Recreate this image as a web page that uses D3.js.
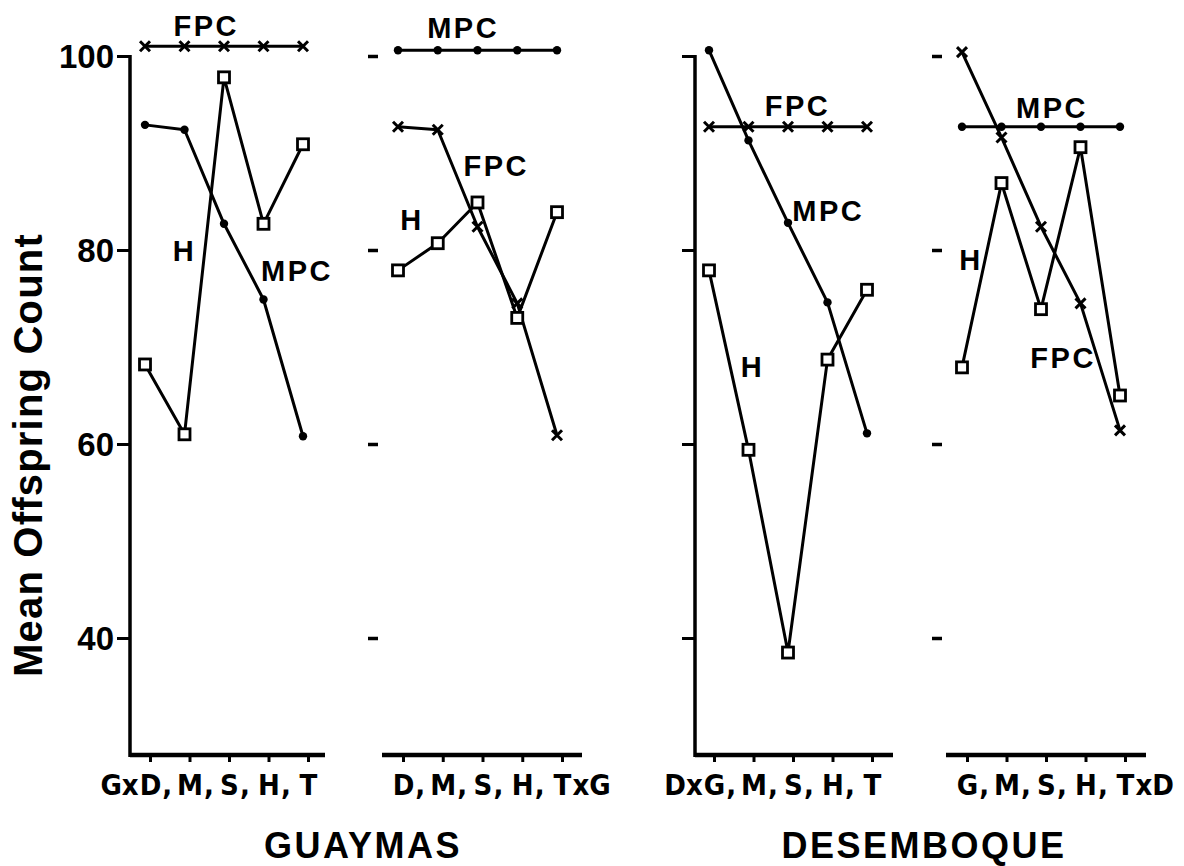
<!DOCTYPE html>
<html>
<head>
<meta charset="utf-8">
<script src="https://cdn.jsdelivr.net/npm/d3@7"></script>
<style>
  body { margin: 0; background: #fff; }
  svg { display: block; }
  text { fill: #000; }
  .bold { font-family: "Liberation Sans", Arial, sans-serif; font-weight: bold; }
  .narrow { font-family: "Liberation Sans Narrow", "DejaVu Sans Condensed", "Liberation Sans", sans-serif; font-weight: bold; }
</style>
</head>
<body>
<div id="chart"></div>
<script>
// valori (Mean Offspring Count)
const yTicks = [40, 60, 80, 100];

// Guaymas, femmina G x maschi D, M, S, H, T
const gaTicks = ["GxD", "M", "S", "H", "T"];
const gaFPC = [101, 101, 101, 101, 101];
const gaMPC = [92.9, 92.4, 82.7, 74.9, 60.8];
const gaH = [68.2, 61.0, 97.8, 82.7, 90.9];

// Guaymas, femmine D, M, S, H, T x maschio G
const gbTicks = ["D", "M", "S", "H", "TxG"];
const gbMPC = [100.6, 100.6, 100.6, 100.6, 100.6];
const gbFPC = [92.7, 92.4, 82.4, 74.5, 60.9];
const gbH = [77.9, 80.7, 84.9, 73.0, 83.9];

// Desemboque, femmina D x maschi G, M, S, H, T
const daTicks = ["DxG", "M", "S", "H", "T"];
const daMPC = [100.6, 91.3, 82.8, 74.6, 61.1];
const daFPC = [92.7, 92.7, 92.7, 92.7, 92.7];
const daH = [77.9, 59.4, 38.5, 68.7, 75.9];

// Desemboque, femmine G, M, S, H, T x maschio D
const dbTicks = ["G", "M", "S", "H", "TxD"];
const dbFPC = [100.4, 91.6, 82.4, 74.5, 61.4];
const dbMPC = [92.7, 92.7, 92.7, 92.7, 92.7];
const dbH = [67.9, 86.9, 73.9, 90.6, 65.0];

const groups = ["GUAYMAS", "DESEMBOQUE"];

// layout dei quattro pannelli (label posizionate in coordinate dati: indice, valore)
const panels = [
  { ticks: gaTicks, series: [["FPC", gaFPC], ["MPC", gaMPC], ["H", gaH]],
    x0: 130, x1: 325, p0: 145, p4: 303, axis: true, yLabels: true,
    labels: [["FPC", 1.55, 103.1], ["H", 1.0, 79.9], ["MPC", 3.85, 77.9]] },
  { ticks: gbTicks, series: [["MPC", gbMPC], ["FPC", gbFPC], ["H", gbH]],
    x0: 382, x1: 582, p0: 398, p4: 557, axis: false,
    labels: [["MPC", 1.64, 102.9], ["FPC", 2.47, 88.7], ["H", 0.35, 83.1]] },
  { ticks: daTicks, series: [["MPC", daMPC], ["FPC", daFPC], ["H", daH]],
    x0: 695, x1: 893, p0: 709, p4: 867, axis: true, yLabels: false,
    labels: [["FPC", 2.24, 94.9], ["MPC", 3.02, 84.1], ["H", 1.1, 68.0]] },
  { ticks: dbTicks, series: [["MPC", dbMPC], ["FPC", dbFPC], ["H", dbH]],
    x0: 946, x1: 1146, p0: 962, p4: 1120, axis: false,
    labels: [["MPC", 2.28, 94.7], ["H", 0.23, 79.0], ["FPC", 2.56, 68.9]] }
];

const W = 1184, H = 866;
const yBottom = 755;
const tickShift = 5;

const svg = d3.select("#chart").append("svg")
  .attr("width", W)
  .attr("height", H);

const y = d3.scaleLinear().domain([40, 100]).range([638, 56]);

panels.forEach(p => {
  const g = svg.append("g");
  const x = d3.scaleLinear().domain([0, 4]).range([p.p0, p.p4]);
  const xt = d3.scalePoint().domain(d3.range(5)).range([p.p0 + tickShift, p.p4 + tickShift]);

  // asse x
  g.append("line")
    .attr("x1", p.x0).attr("x2", p.x1)
    .attr("y1", yBottom).attr("y2", yBottom)
    .attr("stroke", "#000").attr("stroke-width", 4.5);

  const xAxis = g.append("g")
    .attr("transform", `translate(0,${yBottom})`)
    .call(d3.axisBottom(xt).tickSize(7).tickSizeOuter(0).tickFormat(""));
  xAxis.select(".domain").remove();
  xAxis.selectAll(".tick line").attr("stroke", "#000").attr("stroke-width", 3);

  // etichette: lettera centrata sul tick, prefisso/suffisso "x", virgola
  xAxis.selectAll(".tick").each(function(d) {
    const t = d3.select(this);
    const raw = p.ticks[d];
    let main = raw, pre = "", post = "";
    if (raw.includes("x")) {
      if (d === 0) { main = raw.slice(-1); pre = raw.slice(0, -1); }
      else { main = raw[0]; post = raw.slice(1); }
    }
    if (d < 4) post += ",";
    const m = t.append("text").attr("class", "narrow")
      .attr("y", 40).attr("font-size", 29)
      .attr("text-anchor", "middle").text(main);
    const w = m.node().getComputedTextLength();
    if (pre) t.append("text").attr("class", "narrow")
      .attr("x", -w / 2 - 1).attr("y", 40).attr("font-size", 29)
      .attr("text-anchor", "end").text(pre);
    if (post) t.append("text").attr("class", "narrow")
      .attr("x", w / 2 + 1).attr("y", 40).attr("font-size", 29)
      .attr("text-anchor", "start").text(post);
  });

  // asse y (linea solo nei pannelli 1 e 3, trattini negli altri)
  if (p.axis) {
    g.append("line")
      .attr("x1", p.x0).attr("x2", p.x0)
      .attr("y1", y(100) - 1).attr("y2", yBottom + 2)
      .attr("stroke", "#000").attr("stroke-width", 3.5);
    const yAxis = g.append("g")
      .attr("transform", `translate(${p.x0},0)`)
      .call(d3.axisLeft(y).tickValues(yTicks).tickSize(13).tickPadding(3)
        .tickFormat(p.yLabels ? d3.format("d") : ""));
    yAxis.select(".domain").remove();
    yAxis.selectAll(".tick line").attr("stroke", "#000").attr("stroke-width", 3);
    yAxis.selectAll(".tick text").attr("class", "bold").attr("font-size", 33)
      .attr("dy", "0.36em");
  } else {
    const yAxis = g.append("g")
      .attr("transform", `translate(${p.x0 - 4},0)`)
      .call(d3.axisLeft(y).tickValues(yTicks).tickSize(10).tickFormat(""));
    yAxis.select(".domain").remove();
    yAxis.selectAll(".tick line").attr("stroke", "#000").attr("stroke-width", 3.5);
  }

  // serie
  const line = d3.line().x((d, i) => x(i)).y(d => y(d));
  p.series.forEach(([name, vals]) => {
    g.append("path")
      .datum(vals)
      .attr("d", line)
      .attr("fill", "none")
      .attr("stroke", "#000")
      .attr("stroke-width", 3)
      .attr("stroke-linejoin", "round");
  });
  p.series.forEach(([name, vals]) => {
    const mk = g.selectAll(null).data(vals).join("g")
      .attr("transform", (d, i) => `translate(${x(i)},${y(d)})`);
    if (name === "MPC") {
      mk.append("circle").attr("r", 4.2).attr("fill", "#000");
    } else if (name === "FPC") {
      mk.append("path").attr("d", "M-5,-5L5,5M-5,5L5,-5")
        .attr("stroke", "#000").attr("stroke-width", 3).attr("fill", "none");
    } else {
      mk.append("rect").attr("x", -5.5).attr("y", -5.5)
        .attr("width", 11).attr("height", 11)
        .attr("fill", "#fff").attr("stroke", "#000").attr("stroke-width", 2.8);
    }
  });

  // etichette delle serie
  g.selectAll(null).data(p.labels).join("text")
    .attr("class", "bold")
    .attr("x", d => x(d[1]))
    .attr("y", d => y(d[2]))
    .attr("dy", "0.36em")
    .attr("text-anchor", "middle")
    .attr("font-size", 29)
    .attr("letter-spacing", 2.5)
    .text(d => d[0]);
});

// titolo asse y
svg.append("text")
  .attr("class", "bold")
  .attr("transform", "translate(42,455) rotate(-90)")
  .attr("text-anchor", "middle")
  .attr("font-size", 40)
  .attr("letter-spacing", 1.2)
  .text("Mean Offspring Count");

// nomi delle località
svg.selectAll(".group").data(groups).join("text")
  .attr("class", "group bold")
  .attr("x", (d, i) => [363, 924][i])
  .attr("y", 858)
  .attr("text-anchor", "middle")
  .attr("font-size", 36)
  .attr("letter-spacing", 2.5)
  .text(d => d);
</script>
</body>
</html>
